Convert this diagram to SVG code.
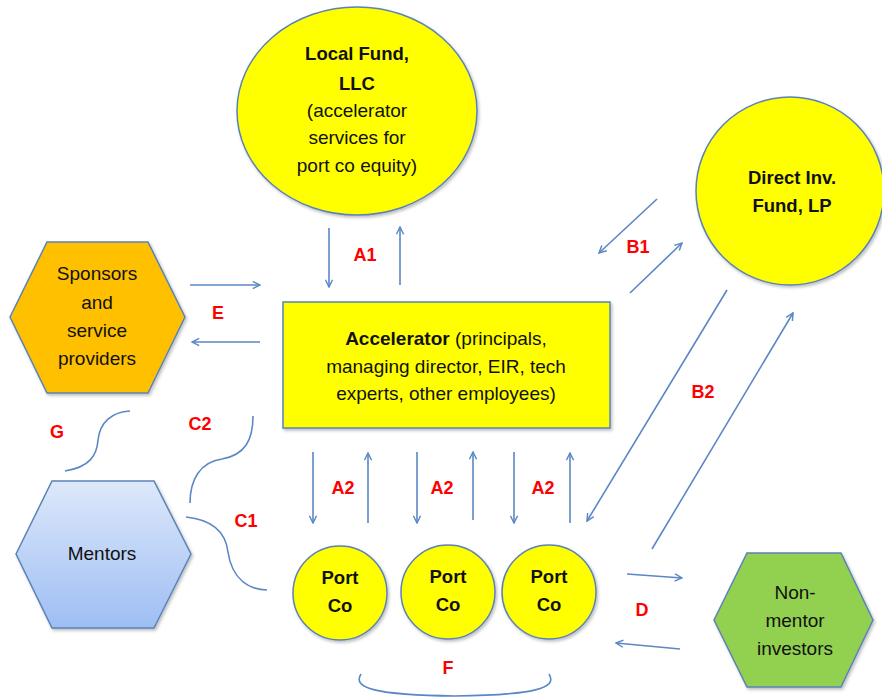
<svg xmlns="http://www.w3.org/2000/svg" width="882" height="699" viewBox="0 0 882 699">
<style>
text{font-family:"Liberation Sans",Arial,sans-serif;fill:#111;text-anchor:middle}
.node{stroke:#5A82B8;stroke-width:1.5}
.t{font-size:19px}
.b{font-size:18.5px;font-weight:bold}
.lbl{font-size:18px;font-weight:bold;fill:#FF0000}
.c{fill:none;stroke:#5B87C5;stroke-width:1.6}
.a{fill:none;stroke:#5B87C5;stroke-width:1.6;marker-end:url(#ah)}
</style>
<defs>
<marker id="ah" viewBox="0 0 10 10" refX="9" refY="5" markerWidth="9" markerHeight="9" markerUnits="userSpaceOnUse" orient="auto">
<path d="M1,1 L9,5 L1,9" fill="none" stroke="#5B87C5" stroke-width="1.6"/>
</marker>
<linearGradient id="blue" x1="0" y1="0" x2="0" y2="1">
<stop offset="0" stop-color="#DDE8FA"/>
<stop offset="1" stop-color="#9EBEF3"/>
</linearGradient>
<filter id="sh" x="-10%" y="-10%" width="125%" height="125%">
<feDropShadow dx="1.5" dy="2" stdDeviation="1.5" flood-color="#000" flood-opacity="0.25"/>
</filter>
</defs>
<rect width="882" height="699" fill="#fff"/>

<g id="local-fund">
<ellipse class="node" cx="357" cy="111" rx="120" ry="104" fill="#FFFF00" filter="url(#sh)"/>
<text class="b" x="357" y="60">Local Fund,</text>
<text class="b" x="357" y="90">LLC</text>
<text class="t" x="357" y="117">(accelerator</text>
<text class="t" x="357" y="144">services for</text>
<text class="t" x="357" y="172">port co equity)</text>
</g>

<g id="direct-fund">
<circle class="node" cx="790" cy="191" r="94" fill="#FFFF00" filter="url(#sh)"/>
<text class="b" x="792" y="184">Direct Inv.</text>
<text class="b" x="792" y="212">Fund,  LP</text>
</g>

<g id="accelerator">
<rect class="node" x="283" y="302" width="327" height="126" fill="#FFFF00" filter="url(#sh)"/>
<text class="t" x="446" y="345"><tspan font-weight="bold">Accelerator</tspan> (principals,</text>
<text class="t" x="446" y="373">managing director, EIR, tech</text>
<text class="t" x="446" y="400">experts, other employees)</text>
</g>

<g id="sponsors">
<polygon class="node" points="10,317 47,242 148,242 185,317 148,393 47,393" fill="#FFC000" filter="url(#sh)"/>
<text class="t" x="97" y="280">Sponsors</text>
<text class="t" x="97" y="309">and</text>
<text class="t" x="97" y="337">service</text>
<text class="t" x="97" y="365">providers</text>
</g>

<g id="mentors">
<polygon class="node" points="16,554 52,481 154,481 191,554 154,628 52,628" fill="url(#blue)" filter="url(#sh)"/>
<text class="t" x="102" y="560">Mentors</text>
</g>

<g id="nonmentor">
<polygon class="node" points="714,620 747,553 841,553 873,620 841,687 747,687" fill="#92D050" filter="url(#sh)"/>
<text class="t" x="795" y="599">Non-</text>
<text class="t" x="795" y="627">mentor</text>
<text class="t" x="795" y="655">investors</text>
</g>

<g id="portco1">
<circle class="node" cx="340" cy="593" r="47" fill="#FFFF00" filter="url(#sh)"/>
<text class="b" x="340" y="584">Port</text>
<text class="b" x="340" y="612">Co</text>
</g>
<g id="portco2">
<circle class="node" cx="448" cy="592" r="47" fill="#FFFF00" filter="url(#sh)"/>
<text class="b" x="448" y="583">Port</text>
<text class="b" x="448" y="611">Co</text>
</g>
<g id="portco3">
<circle class="node" cx="549" cy="592" r="47" fill="#FFFF00" filter="url(#sh)"/>
<text class="b" x="549" y="583">Port</text>
<text class="b" x="549" y="611">Co</text>
</g>

<g id="connectors">
<line class="a" x1="329" y1="228" x2="329" y2="287"/>
<line class="a" x1="400" y1="285" x2="400" y2="227"/>
<line class="a" x1="190" y1="285" x2="260" y2="285"/>
<line class="a" x1="260" y1="342" x2="192" y2="342"/>
<line class="a" x1="657" y1="199" x2="599" y2="253"/>
<line class="a" x1="630" y1="293" x2="682" y2="243"/>
<line class="a" x1="727" y1="290" x2="587" y2="521"/>
<line class="a" x1="652" y1="549" x2="793" y2="313"/>
<line class="a" x1="313" y1="452" x2="313" y2="523"/>
<line class="a" x1="368" y1="523" x2="368" y2="453"/>
<line class="a" x1="417" y1="452" x2="417" y2="523"/>
<line class="a" x1="473" y1="520" x2="473" y2="452"/>
<line class="a" x1="514" y1="452" x2="514" y2="523"/>
<line class="a" x1="570" y1="523" x2="570" y2="453"/>
<line class="a" x1="627" y1="574" x2="682" y2="578"/>
<line class="a" x1="680" y1="649" x2="616" y2="643"/>
<path class="c" d="M65,471 C90,467 97,455 98,440 C100,422 112,412 130,411"/>
<path class="c" d="M190,503 C190,480 200,462 222,459 C245,455 253,440 253,416"/>
<path class="c" d="M186,517 C215,520 226,535 228,552 C232,580 250,590 267,590"/>
<path class="c" d="M361,674 C352,688 375,695 455,696 C535,695 558,688 549,674"/>
</g>

<g id="labels">
<text class="lbl" x="365" y="261">A1</text>
<text class="lbl" x="218" y="319">E</text>
<text class="lbl" x="638" y="253">B1</text>
<text class="lbl" x="703" y="398">B2</text>
<text class="lbl" x="57" y="438">G</text>
<text class="lbl" x="200" y="430">C2</text>
<text class="lbl" x="246" y="527">C1</text>
<text class="lbl" x="343" y="494">A2</text>
<text class="lbl" x="442" y="494">A2</text>
<text class="lbl" x="543" y="494">A2</text>
<text class="lbl" x="642" y="616">D</text>
<text class="lbl" x="448" y="674">F</text>
</g>
</svg>
